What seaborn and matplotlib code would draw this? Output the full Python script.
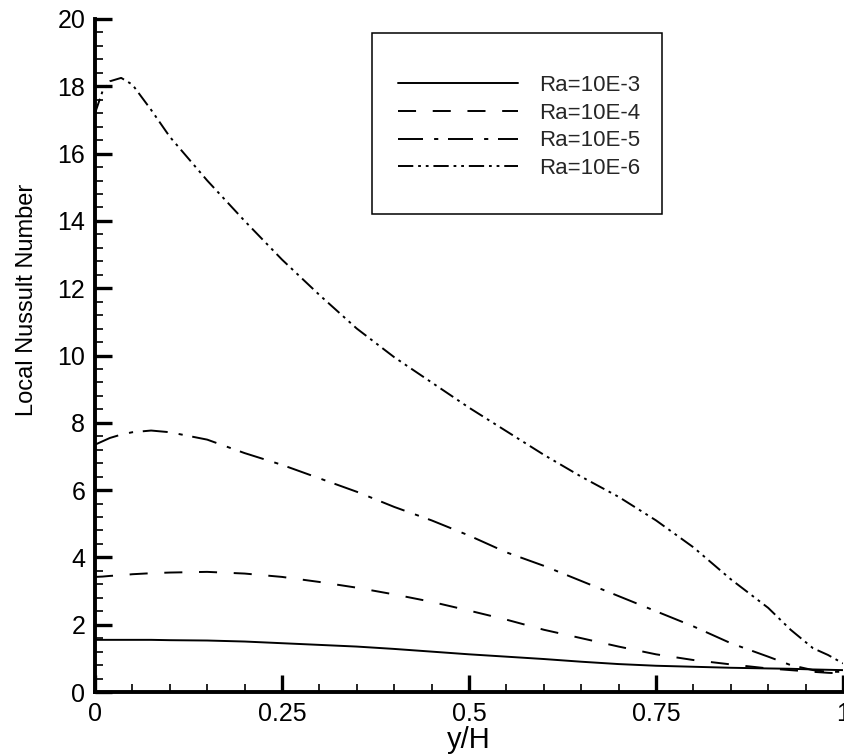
import pandas as pd
import seaborn as sns
import matplotlib.pyplot as plt
from matplotlib.patches import Rectangle
from matplotlib.ticker import MultipleLocator

# values
y_over_h = [0, 0.01, 0.02, 0.035, 0.05, 0.075, 0.1, 0.15, 0.2, 0.25, 0.3, 0.35, 0.4, 0.45,
            0.5, 0.55, 0.6, 0.65, 0.7, 0.75, 0.8, 0.85, 0.9, 0.93, 0.96, 0.98, 1.0]
nu_ra3 = [1.55, 1.55, 1.55, 1.55, 1.55, 1.55, 1.54, 1.53, 1.5, 1.45, 1.4, 1.35, 1.28, 1.2,
          1.12, 1.05, 0.98, 0.9, 0.83, 0.78, 0.75, 0.72, 0.7, 0.69, 0.67, 0.66, 0.65]
nu_ra4 = [3.42, 3.43, 3.45, 3.47, 3.5, 3.53, 3.55, 3.57, 3.52, 3.42, 3.27, 3.1, 2.9, 2.68,
          2.42, 2.15, 1.85, 1.6, 1.35, 1.12, 0.95, 0.82, 0.7, 0.65, 0.6, 0.57, 0.55]
nu_ra5 = [7.35, 7.45, 7.55, 7.65, 7.72, 7.77, 7.72, 7.5, 7.1, 6.75, 6.35, 5.95, 5.5, 5.1,
          4.65, 4.15, 3.75, 3.3, 2.85, 2.4, 1.95, 1.45, 1.05, 0.8, 0.65, 0.6, 0.6]
nu_ra6 = [17.2, 17.85, 18.15, 18.25, 18.05, 17.3, 16.5, 15.2, 14.0, 12.85, 11.8, 10.8, 9.95, 9.2,
          8.45, 7.75, 7.05, 6.4, 5.8, 5.1, 4.3, 3.35, 2.5, 1.85, 1.3, 1.1, 0.85]
case_labels = ['Ra=10E-3', 'Ra=10E-4', 'Ra=10E-5', 'Ra=10E-6']


def main():
    sns.set_style('ticks')
    plt.rcParams['font.family'] = ['Liberation Sans', 'DejaVu Sans']
    plt.rcParams['lines.scale_dashes'] = False

    frames = []
    for lab, vals in zip(case_labels, [nu_ra3, nu_ra4, nu_ra5, nu_ra6]):
        frames.append(pd.DataFrame({'yH': y_over_h, 'Nu': vals, 'case': lab}))
    df = pd.concat(frames, ignore_index=True)

    dashes = {case_labels[0]: '',
              case_labels[1]: (13, 12),
              case_labels[2]: (18, 8, 3, 7),
              case_labels[3]: (11, 3.5, 2, 3.5, 2, 3.5)}

    fig = plt.figure(figsize=(8.44, 7.56), dpi=100)
    ax = fig.add_axes([95 / 844, 64 / 756, 748 / 844, 673 / 756])

    sns.lineplot(data=df, x='yH', y='Nu', style='case', style_order=case_labels,
                 dashes=dashes, color='black', lw=1.4, sort=False, ax=ax)

    ax.set_xlim(0, 1)
    ax.set_ylim(0, 20)
    ax.set_xticks([0, 0.25, 0.5, 0.75, 1])
    ax.set_xticklabels(['0', '0.25', '0.5', '0.75', '1'])
    ax.set_yticks(range(0, 21, 2))
    ax.xaxis.set_minor_locator(MultipleLocator(0.05))
    ax.yaxis.set_minor_locator(MultipleLocator(0.4))
    ax.tick_params(which='major', direction='in', length=12, width=2.4, labelsize=18,
                   pad=7, color='black', labelcolor='black')
    ax.tick_params(which='minor', direction='in', length=6, width=1.2, color='black')
    for side in ['top', 'right']:
        ax.spines[side].set_visible(False)
    for side in ['left', 'bottom']:
        ax.spines[side].set_linewidth(2.8)
        ax.spines[side].set_color('black')

    ax.set_xlabel('y/H', fontsize=21, color='black')
    ax.set_ylabel('Local Nussult Number', fontsize=17, color='black')
    ax.xaxis.set_label_coords(0.5, -0.05)
    ax.yaxis.set_label_coords(-0.076, 0.582)

    # legend, with its frame drawn as its own box
    old = ax.get_legend()
    handles = old.legend_handles
    old.remove()
    ax.legend(handles, case_labels, loc='upper left',
              bbox_to_anchor=(398 / 844, 1 - 75 / 756), bbox_transform=fig.transFigure,
              frameon=False, fontsize=16, handlelength=5.4, handletextpad=0.95,
              labelspacing=0.3, borderpad=0, borderaxespad=0)
    box = Rectangle((372 / 844, 1 - 214 / 756), (662 - 372) / 844, (214 - 33) / 756,
                    transform=fig.transFigure, fill=False, lw=1.1, ec='black')
    fig.add_artist(box)

    fig.savefig('out.png', dpi=100)


if __name__ == "__main__":
    main()
